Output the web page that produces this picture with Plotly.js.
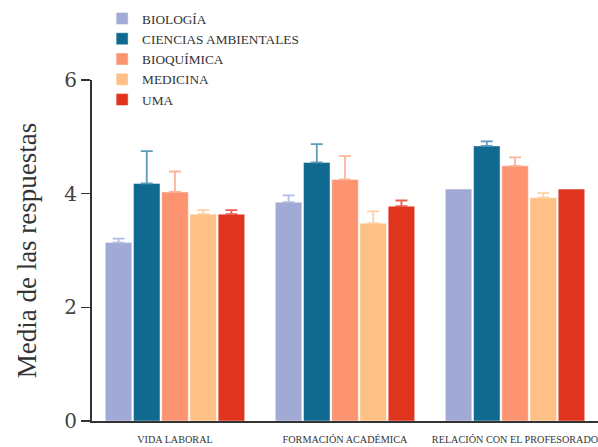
<!DOCTYPE html>
<html>
<head>
<meta charset="utf-8">
<script src="https://cdn.plot.ly/plotly-3.0.1.min.js"></script>
<style>html,body{margin:0;padding:0;background:#fff;}#chart{width:598px;height:447px;}</style>
</head>
<body>
<div id="chart"></div>
<script>
const categories = ["VIDA LABORAL", "FORMACIÓN ACADÉMICA", "RELACIÓN CON EL PROFESORADO"];
const seriesNames = ["BIOLOGÍA", "CIENCIAS AMBIENTALES", "BIOQUÍMICA", "MEDICINA", "UMA"];
const biologia = [3.14, 3.85, 4.08];
const biologiaErr = [0.07, 0.12, null];
const ciencias = [4.18, 4.55, 4.84];
const cienciasErr = [0.57, 0.32, 0.08];
const bioquimica = [4.03, 4.25, 4.49];
const bioquimicaErr = [0.36, 0.41, 0.15];
const medicina = [3.64, 3.48, 3.93];
const medicinaErr = [0.07, 0.21, 0.08];
const uma = [3.64, 3.78, 4.08];
const umaErr = [0.07, 0.10, null];
const yTicks = [0, 2, 4, 6];

const values = [biologia, ciencias, bioquimica, medicina, uma];
const errors = [biologiaErr, cienciasErr, bioquimicaErr, medicinaErr, umaErr];
const colors = ["#a0aad4", "#106a8f", "#fc9371", "#fec185", "#e0341f"];
const errColors = ["#b4bce0", "#5f9bbb", "#fdb49a", "#fed2a5", "#e8604f"];

const traces = seriesNames.map((name, i) => ({
  type: "bar",
  name: name,
  x: categories,
  y: values[i],
  marker: {color: colors[i], line: {color: "rgba(255,255,255,0.45)", width: 1}},
  error_y: {type: "data", symmetric: false,
            array: errors[i].map(e => (e === null ? NaN : e)),
            arrayminus: errors[i].map(e => (e === null ? NaN : 0)),
            visible: true, color: errColors[i], thickness: 1.8, width: 6},
}));

const layout = {
  width: 598, height: 447,
  margin: {l: 92, r: 0, t: 80, b: 26},
  paper_bgcolor: "#ffffff", plot_bgcolor: "#ffffff",
  font: {family: "Liberation Serif, serif", color: "#333333"},
  barmode: "group",
  bargap: 0.17,
  bargroupgap: 0.06,
  showlegend: true,
  legend: {x: 0.02, y: 1.225, xanchor: "left", yanchor: "top", font: {size: 13.3, color: "#333"}, tracegroupgap: 0, bgcolor: "rgba(0,0,0,0)"},
  xaxis: {
    type: "category",
    range: [-0.488, 2.488],
    showline: true, linecolor: "#333333", linewidth: 2,
    ticks: "", tickfont: {size: 10.2, color: "#333"},
    ticklabelstandoff: 8,
    showgrid: false, zeroline: false,
  },
  yaxis: {
    range: [0, 6],
    tickvals: yTicks,
    ticks: "outside", ticklen: 9, tickwidth: 1.5, tickcolor: "#333",
    showline: true, linecolor: "#333333", linewidth: 2,
    tickfont: {family: "DejaVu Serif, serif", size: 20, color: "#444"},
    showgrid: false, zeroline: false,
    title: {text: "Media de las respuestas", font: {size: 27, color: "#333"}, standoff: 20},
  },
};

Plotly.newPlot("chart", traces, layout, {displayModeBar: false, staticPlot: true});
</script>
</body>
</html>
